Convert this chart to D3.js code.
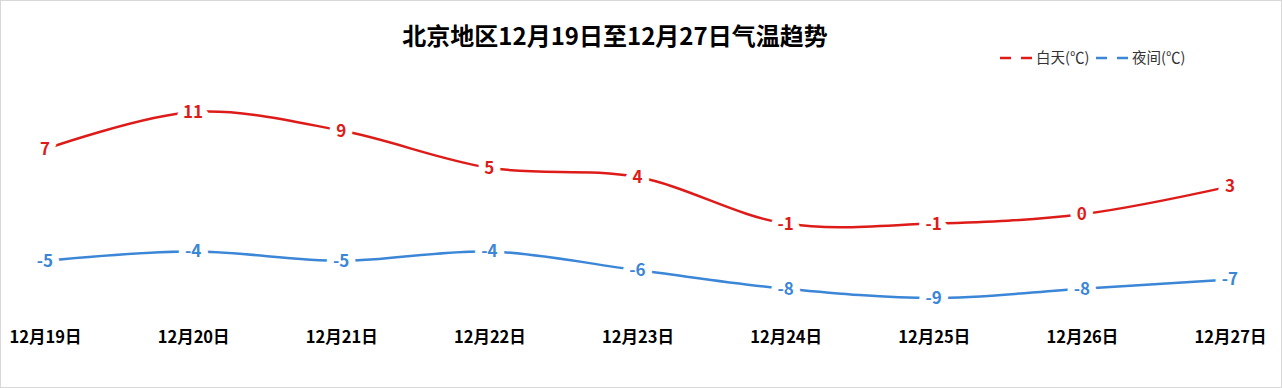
<!DOCTYPE html>
<html>
<head>
<meta charset="utf-8">
<script src="https://cdn.jsdelivr.net/npm/d3@7"></script>
<style>
  body { margin: 0; background: #fff; }
  svg { display: block; font-family: "Noto Sans CJK SC", "Noto Sans", sans-serif; }
</style>
</head>
<body>
<div id="chart"></div>
<script>
// Data
var categories = ['12月19日', '12月20日', '12月21日', '12月22日', '12月23日', '12月24日', '12月25日', '12月26日', '12月27日'];
var dayTemps   = [7, 11, 9, 5, 4, -1, -1, 0, 3];
var nightTemps = [-5, -4, -5, -4, -6, -8, -9, -8, -7];
var seriesNames = ['白天(℃)', '夜间(℃)'];

var chart_width  = 1282;
var chart_height = 388;
var colors = ['#dd1c1a', '#3b86d6'];

var svg = d3.select('#chart')
    .append('svg')
    .attr('width', chart_width)
    .attr('height', chart_height);

// frame
svg.append('rect')
    .attr('x', 0.5).attr('y', 0.5)
    .attr('width', chart_width - 1).attr('height', chart_height - 1)
    .attr('fill', '#fff')
    .attr('stroke', '#d8d8d8');

// scales
var x = d3.scalePoint()
    .domain(categories)
    .range([45, 1230]);

var y = d3.scaleLinear()
    .domain([-9, 11])
    .range([298, 112]);

// title
svg.append('text')
    .attr('x', 615).attr('y', 37)
    .attr('dy', '0.35em')
    .attr('text-anchor', 'middle')
    .attr('font-size', 24)
    .attr('font-weight', 'bold')
    .attr('fill', '#000')
    .text('北京地区12月19日至12月27日气温趋势');

// x axis labels
var xAxis = d3.axisBottom(x).tickSize(0).tickPadding(0);
var gx = svg.append('g')
    .attr('transform', 'translate(0,331)')
    .call(xAxis);
gx.select('.domain').remove();
gx.selectAll('text')
    .attr('font-size', 16.5)
    .attr('font-weight', 'bold')
    .attr('fill', '#000')
    .attr('font-family', '"Noto Sans CJK SC", sans-serif');

// lines
var line = d3.line()
    .x(function(d, i){ return x(categories[i]); })
    .y(function(d){ return y(d); })
    .curve(d3.curveCatmullRom.alpha(0.5));

var series = [dayTemps, nightTemps];

series.forEach(function(values, s){
    svg.append('path')
        .datum(values)
        .attr('fill', 'none')
        .attr('stroke', colors[s])
        .attr('stroke-width', 2.5)
        .attr('d', line);

    svg.append('g')
        .selectAll('text')
        .data(values)
        .enter()
        .append('text')
        .attr('x', function(d, i){ return x(categories[i]); })
        .attr('y', function(d){ return y(d); })
        .attr('dy', '0.35em')
        .attr('text-anchor', 'middle')
        .attr('font-size', 17)
        .attr('font-weight', 'bold')
        .attr('fill', colors[s])
        .attr('stroke', '#fff')
        .attr('stroke-width', 14)
        .attr('paint-order', 'stroke')
        .attr('stroke-linejoin', 'round')
        .text(function(d){ return d; });
});

// legend
var legendX = [1000, 1096];
seriesNames.forEach(function(name, s){
    var g = svg.append('g')
        .attr('transform', 'translate(' + legendX[s] + ',58)');
    g.append('line')
        .attr('x1', 0).attr('x2', 32)
        .attr('y1', 0).attr('y2', 0)
        .attr('stroke', colors[s])
        .attr('stroke-width', 2.5)
        .attr('stroke-dasharray', '11,10');
    g.append('text')
        .attr('x', 36).attr('y', 0)
        .attr('dy', '0.35em')
        .attr('font-size', 14.5)
        .attr('fill', '#333')
        .text(name);
});
</script>
</body>
</html>
